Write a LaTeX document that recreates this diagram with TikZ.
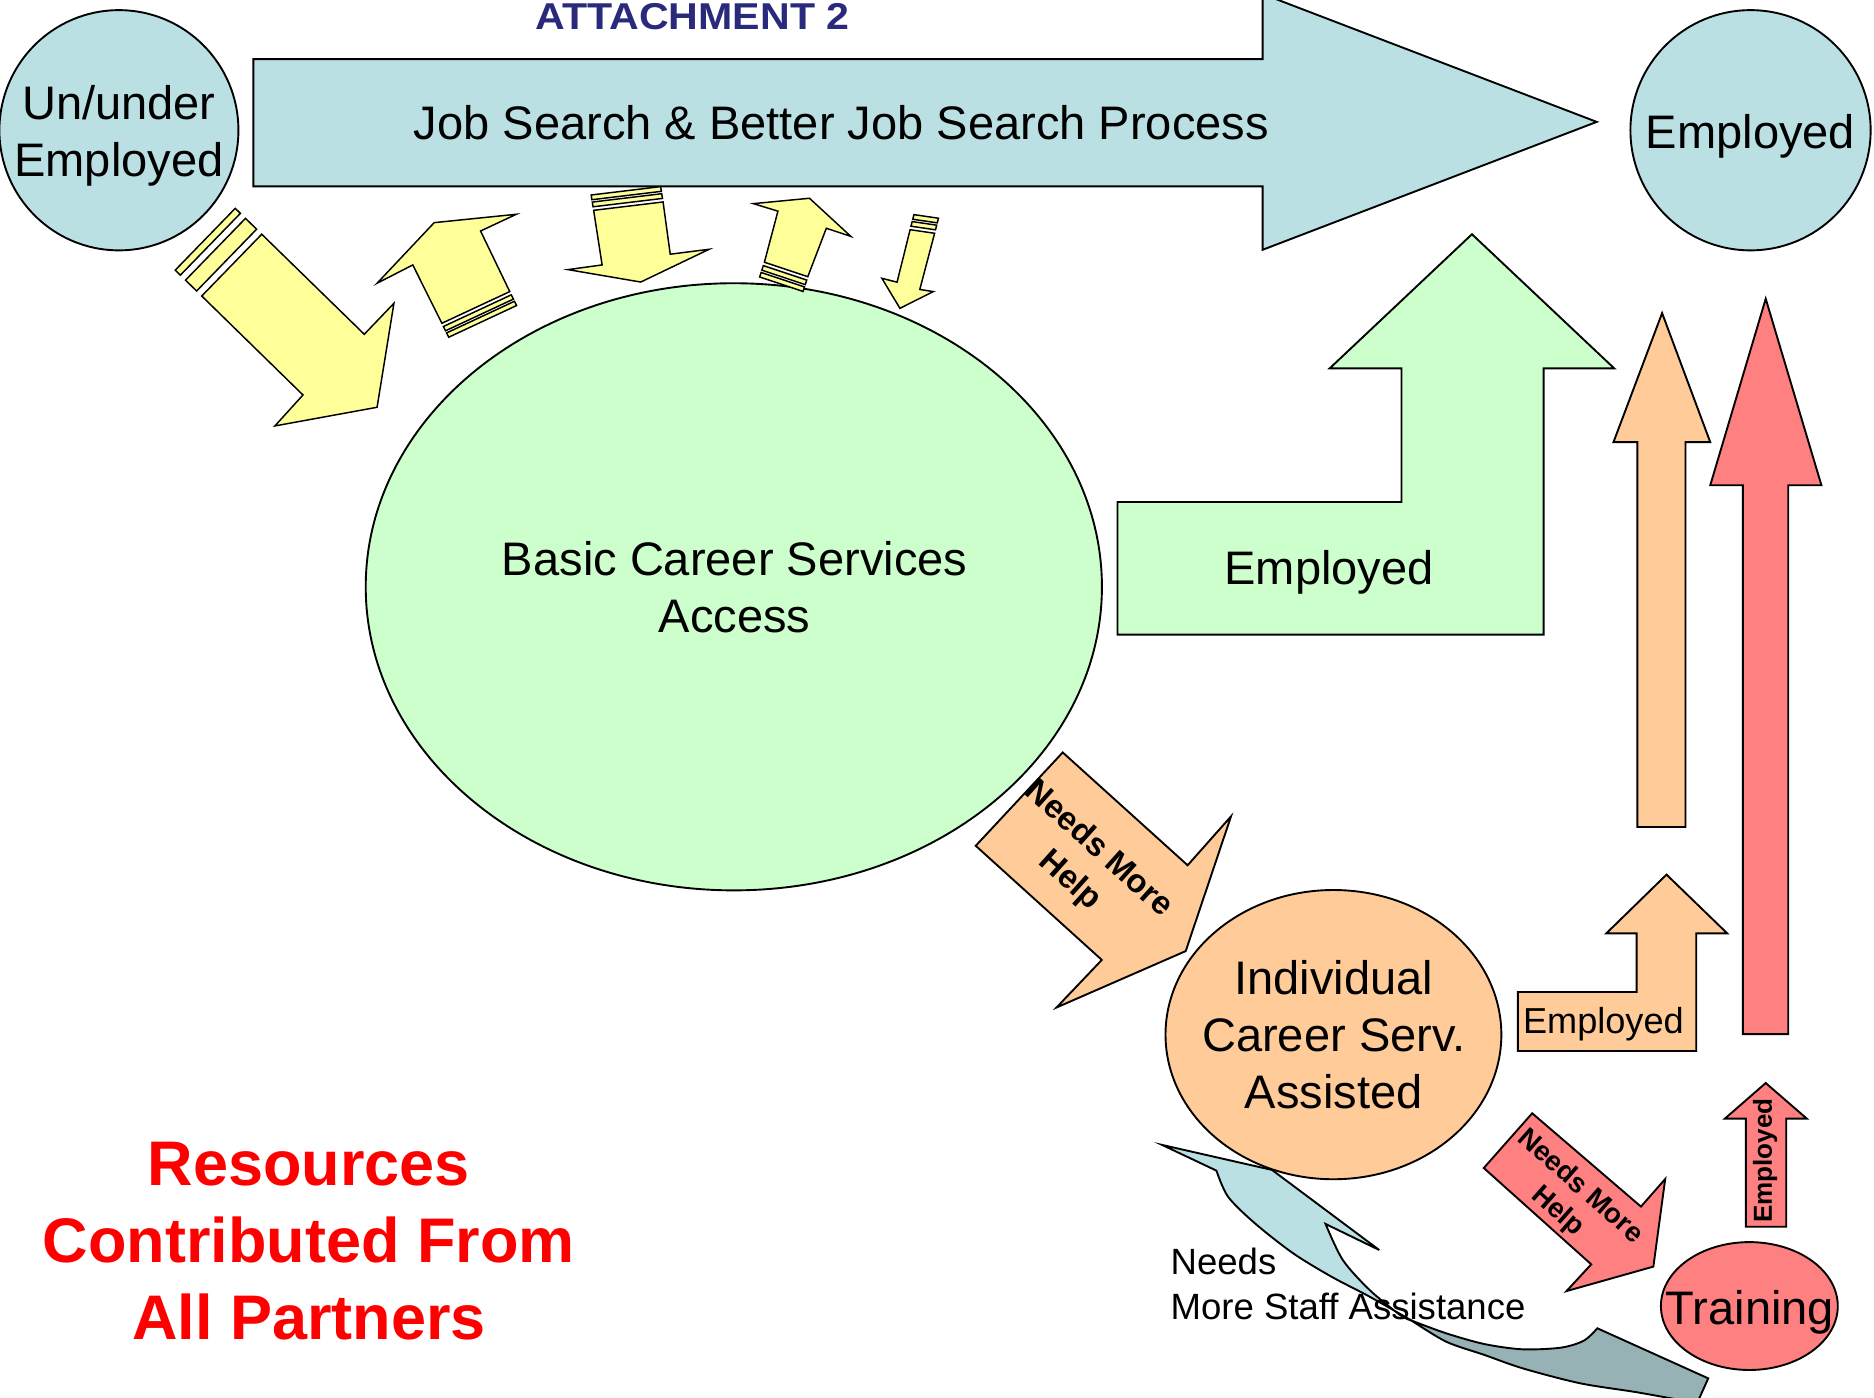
\documentclass[tikz,border=0pt]{standalone}
\usepackage{fontspec}
\setmainfont{Liberation Sans}
\usetikzlibrary{calc, shapes.geometric}
\definecolor{paleblue}{RGB}{187,224,227}
\definecolor{darkteal}{RGB}{150,178,180}
\definecolor{palegreen}{RGB}{204,255,204}
\definecolor{paleyellow}{RGB}{255,255,153}
\definecolor{peach}{RGB}{255,204,153}
\definecolor{salmon}{RGB}{255,128,128}
\definecolor{navy}{RGB}{42,42,124}
\tikzstyle{outline}=[draw=black, line width=0.45pt]
\tikzstyle{blob}=[ellipse, outline, inner sep=0pt]
\tikzstyle{yelarrow}=[outline, fill=paleyellow, line width=0.35pt]
\tikzstyle{bigtext}=[font=\fontsize{11.2}{13.6}\selectfont, align=center, inner sep=0pt]

\begin{document}
\begin{tikzpicture}[x=0.1mm, y=-0.1mm]
		\useasboundingbox (0,0) rectangle (1568,1169);
		\clip (0,0) rectangle (1568,1169);

		\node[font=\bfseries\fontsize{8.9}{10.6}\selectfont, text=navy, xscale=1.1, inner sep=0pt, anchor=base] (attach) at (579.5,24.5) {ATTACHMENT 2};

		\filldraw[outline, fill=paleblue] (212,49.5) -- (1056.5,49.5) -- (1056.5,-5) -- (1336,102) -- (1056.5,209) -- (1056.5,156) -- (212,156) -- cycle;
		\node[bigtext] (process) at (704,102.9) {Job Search \& Better Job Search Process};

		\node[blob, fill=paleblue, minimum width=20mm, minimum height=20.1mm] (unemp) at (99.5,109) {};
		\node[bigtext] (unemptext) at (99.5,113.5) {Un/under\\Employed};
		\node[blob, fill=paleblue, minimum width=20.1mm, minimum height=20.1mm] (emptop) at (1464.7,109) {};
		\node[bigtext] (emptoptext) at (1464.7,114) {Employed};

		\node[blob, fill=palegreen, minimum width=61.6mm, minimum height=50.8mm] (basic) at (614,491) {};
		\node[bigtext] (basictext) at (614.7,491.3) {Basic Career Services\\Access};

		\filldraw[yelarrow] (168.8,247.7) -- (253.5,330.5) -- (230,356.4) -- (315.5,340.8) -- (329.6,253.8) -- (304.8,279.7) -- (219,196) -- cycle;
		\filldraw[yelarrow] (369.7,270.5) -- (345.4,221.7) -- (315.5,237) -- (363.3,186.3) -- (432,179.3) -- (402.1,193.3) -- (426.5,244) -- cycle;
		\filldraw[yelarrow] (496.7,176) -- (503.8,221.7) -- (475.2,225.6) -- (536.1,236) -- (593.3,208.6) -- (560.8,212.7) -- (554.8,169) -- cycle;
		\filldraw[yelarrow] (639.6,219.4) -- (650.9,176.7) -- (630.4,170.4) -- (677.3,165.9) -- (711.9,197.8) -- (691.4,191) -- (675.9,231.5) -- cycle;
		\filldraw[yelarrow] (761.5,192.2) -- (750.6,236.1) -- (737.9,232.9) -- (753,258) -- (780.9,244) -- (769.6,242.2) -- (782,195.2) -- cycle;

		\coordinate (a1) at (168.8,247.7); \coordinate (a2) at (219,196); \coordinate (da) at (-0.715,-0.699);
		\coordinate (b1) at (369.7,270.5); \coordinate (b2) at (426.5,244); \coordinate (db) at (0.44,0.898);
		\coordinate (c1) at (496.7,176); \coordinate (c2) at (554.8,169); \coordinate (dc) at (-0.159,-0.987);
		\coordinate (d1) at (639.6,219.4); \coordinate (d2) at (675.9,231.5); \coordinate (dd) at (-0.307,0.952);
		\coordinate (e1) at (761.5,192.2); \coordinate (e2) at (782,195.2); \coordinate (de) at (0.248,-0.969);

		\foreach \s / \e in {6/19, 25/31}
		\filldraw[yelarrow] ($(a1)+\s*(da)$) -- ($(a2)+\s*(da)$) -- ($(a2)+\e*(da)$) -- ($(a1)+\e*(da)$) -- cycle;

		\foreach \p / \q / \d in {b1/b2/db, c1/c2/dc, d1/d2/dd, e1/e2/de}
		\foreach \s / \e in {3/7, 9/13}
		\filldraw[yelarrow] ($(\p)+\s*(\d)$) -- ($(\q)+\s*(\d)$) -- ($(\q)+\e*(\d)$) -- ($(\p)+\e*(\d)$) -- cycle;

		\filldraw[outline, fill=palegreen] (935,420) -- (1172.6,420) -- (1172.6,308.2) -- (1112.6,308.2) -- (1231.6,196) -- (1350.6,308.2) -- (1291.6,308.2) -- (1291.6,531) -- (935,531) -- cycle;
		\node[bigtext] (empgreen) at (1112.1,479.3) {Employed};

		\filldraw[outline, fill=peach] (1370,692) -- (1370,370) -- (1350,370) -- (1390.7,262) -- (1431,370) -- (1410.3,370) -- (1410.3,692) -- cycle;
		\filldraw[outline, fill=salmon] (1458.3,865.3) -- (1458.3,406) -- (1431,406) -- (1477.4,250) -- (1524,406) -- (1496.2,406) -- (1496.2,865.3) -- cycle;

		\filldraw[outline, fill=peach] (889.2,629.6) -- (993.7,724) -- (1030,683.1) -- (992.1,795.8) -- (884,843) -- (921.9,803.2) -- (816.4,707.7) -- cycle;
		\node[font=\bfseries\fontsize{7.8}{10.2}\selectfont, align=center, inner sep=0pt, rotate=-42] (needsbasic) at (907,724) {Needs More\\Help};

		\filldraw[outline, fill=paleblue] (972.4,958) -- (1064.3,978.9) -- (1154,1045.9) -- (1109.1,1024.1)
			-- plot[smooth] coordinates {(1109.1,1024.1) (1123.5,1054.2) (1145.9,1079.3) (1171.5,1100.3) (1181.2,1105)}
			-- plot[smooth] coordinates {(1181.2,1105) (1145.9,1084.9) (1114,1068.2) (1081.9,1048.6) (1049.9,1023.5) (1027.5,1001.3) (1017.8,979.5)} -- cycle;
		\filldraw[outline, fill=darkteal] (1181.2,1105)
			-- plot[smooth] coordinates {(1181.2,1105) (1210,1115.6) (1242,1124.6) (1274,1129) (1306.1,1127.6) (1325.3,1121.7) (1336.5,1111.4)}
			-- (1429.3,1153.3) -- (1420,1174)
			-- plot[smooth] coordinates {(1420,1174) (1370,1165) (1322,1157.4) (1274,1144.9) (1242,1133.7) (1210,1122.6) (1181.2,1105)} -- cycle;

		\node[blob, fill=peach, minimum width=28.1mm, minimum height=24.2mm] (indiv) at (1115.7,865.7) {};
		\node[bigtext] (indivtext) at (1116,865.8) {Individual\\Career Serv.\\Assisted};

		\filldraw[outline, fill=peach] (1270,830) -- (1369.4,830) -- (1369.4,781) -- (1344,781) -- (1394.4,731.8) -- (1445.2,781) -- (1419.3,781) -- (1419.3,879.4) -- (1270,879.4) -- cycle;
		\node[font=\fontsize{8.6}{10.3}\selectfont, inner sep=0pt] (emporange) at (1341.6,856.7) {Employed};

		\filldraw[outline, fill=salmon] (1282,931.5) -- (1373,1009.6) -- (1393.3,986.5) -- (1383.4,1059.8) -- (1310.7,1080.3) -- (1331.4,1057.9) -- (1241.5,977.3) -- cycle;
		\node[font=\bfseries\fontsize{6.6}{7.9}\selectfont, align=center, inner sep=0pt, rotate=-41.5] (needsindiv) at (1312.5,1003.5) {Needs More\\Help};

		\node[blob, fill=salmon, minimum width=14.8mm, minimum height=10.7mm] (training) at (1463.7,1092.8) {};
		\node[bigtext] (trainingtext) at (1464.3,1097.8) {Training};

		\filldraw[outline, fill=salmon] (1460.8,1026.4) -- (1460.8,936) -- (1443.2,936) -- (1477.4,906.2) -- (1511.8,936) -- (1494.6,936) -- (1494.6,1026.4) -- cycle;
		\node[font=\bfseries\fontsize{6.2}{7.4}\selectfont, inner sep=0pt, rotate=90] (emptrain) at (1477,971) {Employed};

		\node[font=\fontsize{8.7}{10.7}\selectfont, align=left, anchor=west, inner sep=0pt] (staff) at (978.8,1074.4) {Needs\\More Staff Assistance};

		\node[font=\bfseries\fontsize{15}{18.3}\selectfont, text=red, align=center, inner sep=0pt] (resources) at (258.5,1038.3) {Resources\\Contributed From\\All Partners};
	\end{tikzpicture}
\end{document}
